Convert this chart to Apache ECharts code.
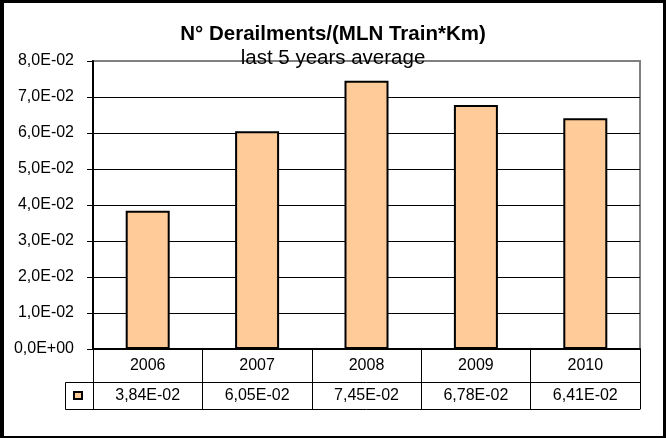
<!DOCTYPE html>
<html>
<head>
<meta charset="utf-8">
<script src="https://cdn.jsdelivr.net/npm/echarts@6/dist/echarts.min.js"></script>
<style>html,body{margin:0;padding:0;background:#fff}#c{width:666px;height:438px}</style>
</head>
<body>
<div id="c"></div>
<script>
const categories = ['2006', '2007', '2008', '2009', '2010'];
const values = [0.0384, 0.0605, 0.0745, 0.0678, 0.0641];
const yTicks = { min: 0, max: 0.08, interval: 0.01 };
const titleText = 'N° Derailments/(MLN Train*Km)';
const subText = 'last 5 years average';
const seriesName = 'N° Derailments/(MLN Train*Km)';

const FONT = '"Liberation Sans", Arial, sans-serif';

function sci(v, digits) {
  const s = Number(v).toExponential(digits);
  const parts = s.split('e');
  const mant = parts[0].replace('.', ',');
  let exp = parseInt(parts[1], 10);
  const sign = exp < 0 ? '-' : '+';
  exp = Math.abs(exp);
  return mant + 'E' + sign + (exp < 10 ? '0' + exp : '' + exp);
}

const chart = echarts.init(document.getElementById('c'), null, { renderer: 'canvas' });
const option = {
  backgroundColor: '#fff',
  animation: false,
  title: [
    { text: titleText, left: 'center', top: 19, padding: [5, 5, 5, 14],
      textStyle: { fontFamily: FONT, fontSize: 20.5, fontWeight: 'bold', color: '#000' } },
    { text: subText, left: 'center', top: 43, padding: [5, 5, 5, 18],
      textStyle: { fontFamily: FONT, fontSize: 20.5, fontWeight: 'normal', color: '#000' } }
  ],
  legend: {
    show: true, left: 73, top: 391, padding: 0, itemWidth: 8, itemHeight: 7,
    icon: 'rect', formatter: function () { return ''; },
    itemStyle: { color: '#FFCC99', borderColor: '#000', borderWidth: 2 },
    textStyle: { fontSize: 1 },
    data: [seriesName], selectedMode: false
  },
  grid: {
    left: 93, right: 26, top: 61, bottom: 89, containLabel: false,
    show: true, borderColor: '#808080', borderWidth: 2, backgroundColor: 'transparent'
  },
  xAxis: [
    {
      type: 'category', data: categories, position: 'bottom', boundaryGap: true,
      axisLine: { show: true, lineStyle: { color: '#000', width: 2 } },
      axisTick: { show: true, interval: 0, inside: false, length: 33, lineStyle: { color: '#000', width: 1 } },
      axisLabel: { show: true, interval: 0, margin: 9, color: '#000', fontFamily: FONT, fontSize: 16 },
      splitLine: { show: false }
    },
    {
      type: 'category', data: categories, position: 'bottom', offset: 33, boundaryGap: true,
      axisLine: { show: true, lineStyle: { color: '#000', width: 1 } },
      axisTick: { show: true, interval: 0, inside: false, length: 27, lineStyle: { color: '#000', width: 1 } },
      axisLabel: { show: true, interval: 0, margin: 6, color: '#000', fontFamily: FONT, fontSize: 16,
        formatter: function (val, idx) { return sci(values[idx], 2); } },
      splitLine: { show: false }
    },
    {
      type: 'category', data: categories, position: 'bottom', offset: 60, boundaryGap: true,
      axisLine: { show: true, lineStyle: { color: '#000', width: 1 } },
      axisTick: { show: false }, axisLabel: { show: false }, splitLine: { show: false }
    }
  ],
  yAxis: {
    type: 'value', min: yTicks.min, max: yTicks.max, interval: yTicks.interval,
    axisLine: { show: true, lineStyle: { color: '#000', width: 2 } },
    axisTick: { show: true, inside: false, length: 6, lineStyle: { color: '#000', width: 1 } },
    axisLabel: { show: true, margin: 19, color: '#000', fontFamily: FONT, fontSize: 16,
      formatter: function (v) { return sci(v, 1); } },
    splitLine: { show: true, showMinLine: false, showMaxLine: false, lineStyle: { color: '#000', width: 1 } }
  },
  series: [{
    name: seriesName, type: 'bar', xAxisIndex: 0, data: values, barWidth: 44,
    itemStyle: { color: '#FFCC99', borderColor: '#000', borderWidth: 2 },
    emphasis: { disabled: true }
  }],
  graphic: [
    { type: 'rect', shape: { x: 65.5, y: 382.5, width: 28, height: 27 },
      style: { fill: 'none', stroke: '#000', lineWidth: 1 }, z: 10 },
    { type: 'rect', shape: { x: 0, y: 0, width: 4, height: 438 }, style: { fill: '#000' }, z: 100 },
    { type: 'rect', shape: { x: 0, y: 0, width: 666, height: 3 }, style: { fill: '#000' }, z: 100 },
    { type: 'rect', shape: { x: 663, y: 0, width: 3, height: 438 }, style: { fill: '#000' }, z: 100 },
    { type: 'rect', shape: { x: 0, y: 436, width: 666, height: 2 }, style: { fill: '#000' }, z: 100 }
  ]
};
chart.setOption(option);
</script>
</body>
</html>
